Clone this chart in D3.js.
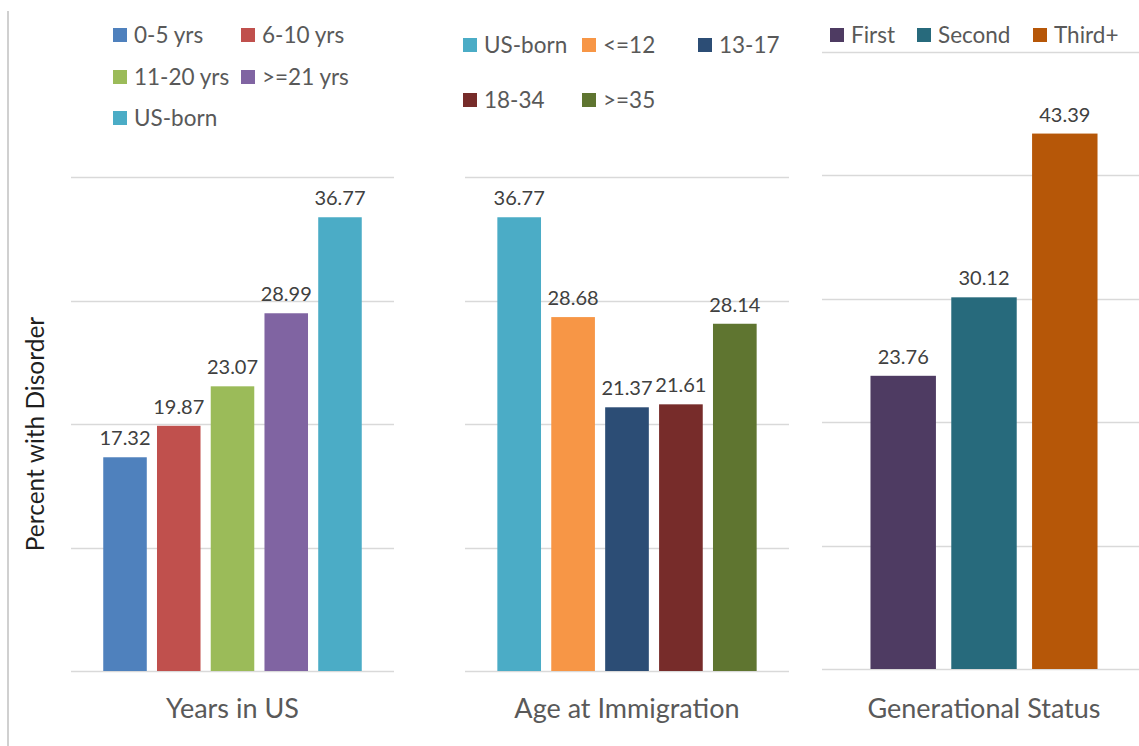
<!DOCTYPE html>
<html>
<head>
<meta charset="utf-8">
<script src="https://cdn.jsdelivr.net/npm/d3@7"></script>
<style>
  html, body { margin: 0; padding: 0; background: #fff; }
  svg { display: block; font-family: Lato, "Open Sans", sans-serif; }
</style>
</head>
<body>
<svg id="chart" width="1139" height="746"></svg>
<script>
// Years in US
const yearsCats = ["0-5 yrs", "6-10 yrs", "11-20 yrs", ">=21 yrs", "US-born"];
const yearsVals = [17.32, 19.87, 23.07, 28.99, 36.77];
const yearsColors = ["#4F81BD", "#C0504D", "#9BBB59", "#8064A2", "#4BACC6"];

// Age at immigration
const ageCats = ["US-born", "<=12", "13-17", "18-34", ">=35"];
const ageVals = [36.77, 28.68, 21.37, 21.61, 28.14];
const ageColors = ["#4BACC6", "#F79646", "#2C4D75", "#772C2A", "#5F7530"];

// Generational status
const genCats = ["First", "Second", "Third+"];
const genVals = [23.76, 30.12, 43.39];
const genColors = ["#4E3B62", "#276A7C", "#B65708"];

// gridline values for each panel
const gridTicks40 = [0, 10, 20, 30, 40];
const gridTicks50 = [0, 10, 20, 30, 40, 50];

const svg = d3.select("#chart");

// thin frame line on the left edge
svg.append("line")
  .attr("x1", 8).attr("x2", 8).attr("y1", 11).attr("y2", 746)
  .attr("stroke", "#D0D0D0").attr("stroke-width", 2);

// y-axis title
svg.append("text")
  .attr("transform", "translate(44,434) rotate(-90)")
  .attr("text-anchor", "middle")
  .attr("font-size", 24.5)
  .attr("fill", "#1f1f1f")
  .text("Percent with Disorder");

const panels = [
  { cats: yearsCats, vals: yearsVals, colors: yearsColors, title: "Years in US",
    x0: 71, x1: 394, base: 671, yMax: 40, ticks: gridTicks40,
    legend: { cols: [113, 241], rowY: [35, 77, 118], perRow: 2 } },
  { cats: ageCats, vals: ageVals, colors: ageColors, title: "Age at Immigration",
    x0: 465, x1: 789, base: 671, yMax: 40, ticks: gridTicks40,
    legend: { cols: [463, 582, 698], rowY: [45, 100], perRow: 3 } },
  { cats: genCats, vals: genVals, colors: genColors, title: "Generational Status",
    x0: 822, x1: 1146, base: 669, yMax: 50, ticks: gridTicks50,
    legend: { cols: [830, 917, 1033], rowY: [35], perRow: 3 } }
];

const pxPerUnit = 12.34;

panels.forEach(p => {
  const g = svg.append("g");

  const y = d3.scaleLinear()
    .domain([0, p.yMax])
    .range([p.base, p.base - p.yMax * pxPerUnit]);

  const x = d3.scaleBand()
    .domain(p.cats)
    .range([p.x0, p.x1])
    .paddingInner(0.19)
    .paddingOuter(0.6);

  // horizontal gridlines
  g.append("g").selectAll("line")
    .data(p.ticks)
    .join("line")
    .attr("x1", p.x0).attr("x2", p.x1)
    .attr("y1", d => Math.round(y(d)) + 0.5)
    .attr("y2", d => Math.round(y(d)) + 0.5)
    .attr("stroke", "#D9D9D9")
    .attr("stroke-width", 1.5);

  // bars
  g.selectAll("rect.bar")
    .data(p.cats.map((c, i) => ({ c, v: p.vals[i], col: p.colors[i] })))
    .join("rect")
    .attr("class", "bar")
    .attr("x", d => x(d.c))
    .attr("width", x.bandwidth())
    .attr("y", d => y(d.v))
    .attr("height", d => y(0) - y(d.v))
    .attr("fill", d => d.col);

  // value labels
  g.selectAll("text.val")
    .data(p.cats.map((c, i) => ({ c, v: p.vals[i] })))
    .join("text")
    .attr("class", "val")
    .attr("x", d => x(d.c) + x.bandwidth() / 2)
    .attr("y", d => y(d.v) - 12)
    .attr("text-anchor", "middle")
    .attr("font-size", 20)
    .attr("fill", "#404040")
    .text(d => d.v.toFixed(2));

  // category axis title
  g.append("text")
    .attr("x", (p.x0 + p.x1) / 2)
    .attr("y", 718)
    .attr("text-anchor", "middle")
    .attr("font-size", 27)
    .attr("fill", "#595959")
    .text(p.title);

  // legend
  const L = p.legend;
  const items = g.selectAll("g.leg")
    .data(p.cats.map((c, i) => ({ c, col: p.colors[i], i })))
    .join("g")
    .attr("class", "leg")
    .attr("transform", d => {
      const col = d.i % L.perRow, row = Math.floor(d.i / L.perRow);
      return `translate(${L.cols[col]},${L.rowY[row]})`;
    });
  items.append("rect")
    .attr("x", 0).attr("y", -7)
    .attr("width", 14).attr("height", 14)
    .attr("fill", d => d.col);
  items.append("text")
    .attr("x", 21)
    .attr("y", 0)
    .attr("dy", "0.35em")
    .attr("font-size", 22.5)
    .attr("fill", "#595959")
    .text(d => d.c);
});
</script>
</body>
</html>
